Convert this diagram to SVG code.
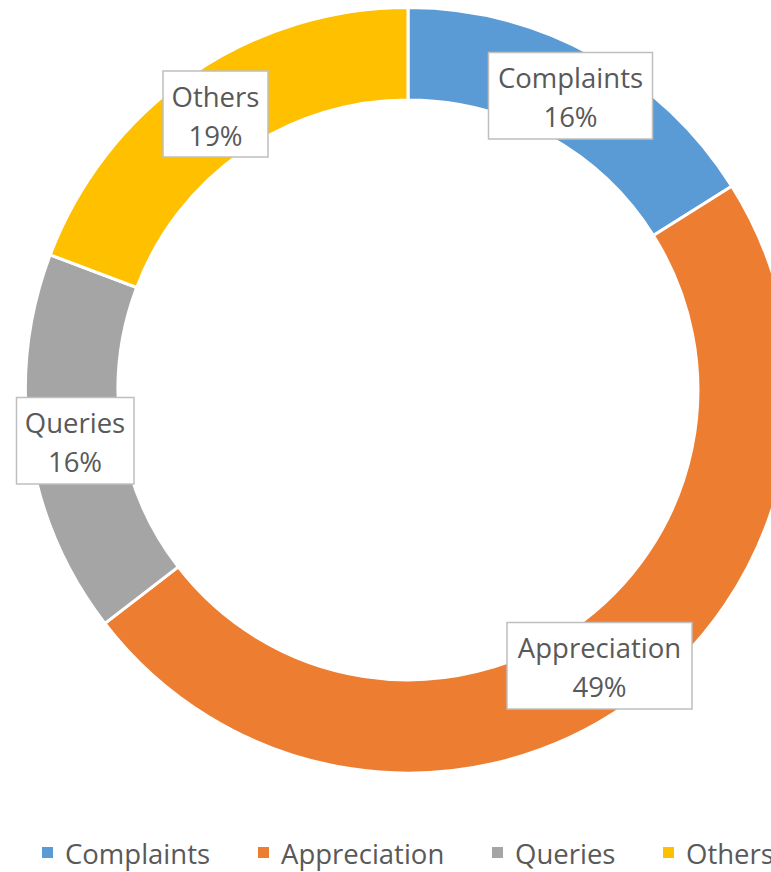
<svg xmlns="http://www.w3.org/2000/svg" width="771" height="872" viewBox="0 0 771 872">
<style>
.seg{stroke:#FFFFFF;stroke-width:3;stroke-linejoin:miter}
.box{fill:#FFFFFF;stroke:#BFBFBF;stroke-width:1.5}
.t{font-family:"Open Sans","Liberation Sans",sans-serif;font-size:27.5px;fill:#595959;text-anchor:middle}
.lg{font-family:"Open Sans","Liberation Sans",sans-serif;font-size:27.5px;fill:#595959}
</style>
<rect width="771" height="872" fill="#FFFFFF"/>
<g id="ring">
<path id="seg-complaints" class="seg" fill="#5B9BD5" d="M408,7.5 A382.5,382.5 0 0 1 731.7,186.2 L653.4,235.5 A290,290 0 0 0 408,100 Z"/>
<path id="seg-appreciation" class="seg" fill="#ED7D31" d="M731.7,186.2 A382.5,382.5 0 0 1 104.9,623.4 L178.2,566.9 A290,290 0 0 0 653.4,235.5 Z"/>
<path id="seg-queries" class="seg" fill="#A5A5A5" d="M104.9,623.4 A382.5,382.5 0 0 1 50.2,254.8 L136.7,287.5 A290,290 0 0 0 178.2,566.9 Z"/>
<path id="seg-others" class="seg" fill="#FFC000" d="M50.2,254.8 A382.5,382.5 0 0 1 408,7.5 L408,100 A290,290 0 0 0 136.7,287.5 Z"/>
</g>
<g id="label-complaints">
<rect class="box" x="488.5" y="52.5" width="164" height="86.5"/>
<text class="t" x="570.5" y="88">Complaints</text>
<text class="t" x="570.5" y="127">16%</text>
</g>
<g id="label-others">
<rect class="box" x="163" y="71" width="105" height="86"/>
<text class="t" x="215.5" y="107">Others</text>
<text class="t" x="215.5" y="146">19%</text>
</g>
<g id="label-queries">
<rect class="box" x="16.5" y="397.5" width="117.5" height="86.5"/>
<text class="t" x="75" y="433">Queries</text>
<text class="t" x="75" y="472">16%</text>
</g>
<g id="label-appreciation">
<rect class="box" x="507" y="622.5" width="185" height="86.5"/>
<text class="t" x="599.5" y="658">Appreciation</text>
<text class="t" x="599.5" y="697">49%</text>
</g>
<g id="legend">
<rect x="42" y="847" width="11" height="11" fill="#5B9BD5"/>
<text class="lg" x="65" y="864">Complaints</text>
<rect x="258" y="847" width="11" height="11" fill="#ED7D31"/>
<text class="lg" x="281" y="864">Appreciation</text>
<rect x="492" y="847" width="11" height="11" fill="#A5A5A5"/>
<text class="lg" x="515" y="864">Queries</text>
<rect x="663" y="847" width="11" height="11" fill="#FFC000"/>
<text class="lg" x="686" y="864">Others</text>
</g>
</svg>
